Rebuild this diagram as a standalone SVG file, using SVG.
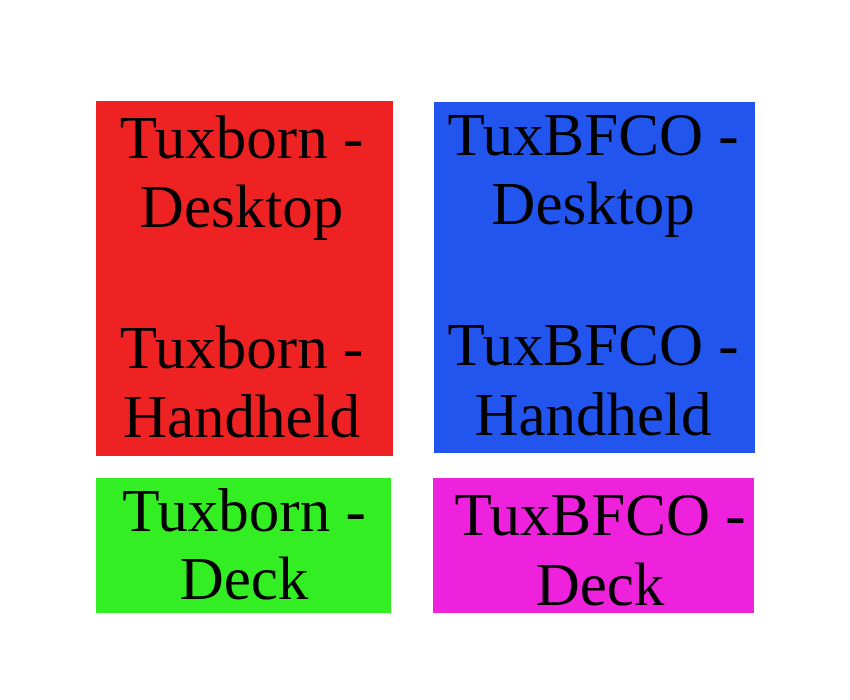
<svg xmlns="http://www.w3.org/2000/svg" width="850" height="700" viewBox="0 0 850 700">
<style>
text{font-family:"Liberation Serif","Times New Roman",serif;font-size:61px;fill:#000;text-anchor:middle}
</style>
<rect width="850" height="700" fill="#fff"/>
<g id="tuxborn-desktop-handheld">
<rect x="96" y="101" width="297" height="355" fill="#ee2222"/>
<text x="241.5" y="158">Tuxborn -</text>
<text x="241.5" y="227">Desktop</text>
<text x="241.5" y="368">Tuxborn -</text>
<text x="241.5" y="437">Handheld</text>
</g>
<g id="tuxbfco-desktop-handheld">
<rect x="434" y="102" width="321" height="351" fill="#2255ee"/>
<text x="593" y="155">TuxBFCO -</text>
<text x="593" y="224">Desktop</text>
<text x="593" y="365">TuxBFCO -</text>
<text x="593" y="435">Handheld</text>
</g>
<g id="tuxborn-deck">
<rect x="96" y="478" width="295" height="135" fill="#33ee22"/>
<text x="244" y="531">Tuxborn -</text>
<text x="244" y="599">Deck</text>
</g>
<g id="tuxbfco-deck">
<rect x="433" y="478" width="321" height="135" fill="#ee22dd"/>
<text x="600" y="535">TuxBFCO -</text>
<text x="600" y="605">Deck</text>
</g>
<g id="connectors"/>
</svg>
